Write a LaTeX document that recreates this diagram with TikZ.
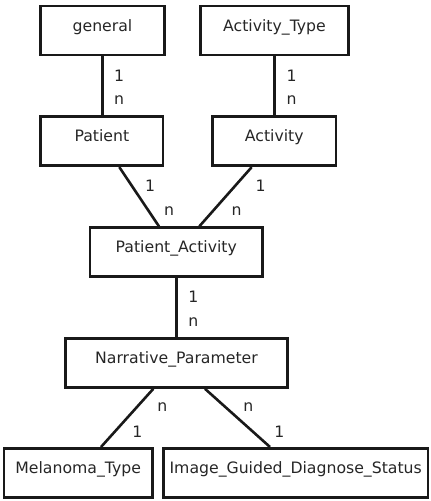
\documentclass[tikz,border=0pt]{standalone}
\usepackage{fontspec}
\setmainfont{DejaVu Sans}
\begin{document}
\begin{tikzpicture}[x=1bp,y=-1bp,
  every node/.style={font=\fontsize{15.7bp}{18bp}\selectfont, text=black!85},
  entity/.style={draw=black!90, line width=2.6bp, minimum height=49bp, inner sep=0pt,
                 text height=7.5bp, text depth=6.5bp},
  link/.style={draw=black!90, line width=2.6bp},
  card/.style={inner sep=0pt}]
  \useasboundingbox (0,0) rectangle (430,501);

  % entities
  \node[entity, minimum width=123.6bp] (general)  at (102.5,30.7) {general};
  \node[entity, minimum width=148.4bp] (acttype)  at (274.5,30.7) {Activity\_Type};
  \node[entity, minimum width=122.3bp] (patient)  at (101.9,141.3) {Patient};
  \node[entity, minimum width=123.3bp] (activity) at (274.3,141.3) {Activity};
  \node[entity, minimum width=172.7bp] (patact)   at (176.3,252.2) {Patient\_Activity};
  \node[entity, minimum width=221.6bp] (narr)     at (176.5,363.0) {Narrative\_Parameter};
  \node[entity, minimum width=148.3bp] (melan)    at (78.2,472.8) {Melanoma\_Type};
  \node[entity, minimum width=264.7bp] (igds)     at (295.7,472.8) {Image\_Guided\_Diagnose\_Status};

  % relationships
  \draw[link] (general.south) -- (general.south |- patient.north);
  \draw[link] (acttype.south) -- (acttype.south |- activity.north);
  \draw[link] ([xshift=17.4bp]patient.south) -- ([xshift=-17.3bp]patact.north);
  \draw[link] ([xshift=-22.6bp]activity.south) -- ([xshift=23bp]patact.north);
  \draw[link] (patact.south) -- (patact.south |- narr.north);
  \draw[link] ([xshift=-23.2bp]narr.south) -- ([xshift=22.8bp]melan.north);
  \draw[link] ([xshift=28.5bp]narr.south) -- ([xshift=-25.7bp]igds.north);

  % cardinalities
  \node[card] (c1) at (119,76) {1};
  \node[card] (c2) at (119,100.3) {n};
  \node[card] (c3) at (291.7,76) {1};
  \node[card] (c4) at (291.7,100.3) {n};
  \node[card] (c5) at (150,185.7) {1};
  \node[card] (c6) at (169,210.7) {n};
  \node[card] (c7) at (260.7,185.7) {1};
  \node[card] (c8) at (236.7,210.7) {n};
  \node[card] (c9) at (193.3,296.7) {1};
  \node[card] (c10) at (193.3,321.7) {n};
  \node[card] (c11) at (162.3,407.3) {n};
  \node[card] (c12) at (137.3,431.7) {1};
  \node[card] (c13) at (248.3,407.3) {n};
  \node[card] (c14) at (279.3,431.7) {1};
\end{tikzpicture}
\end{document}
